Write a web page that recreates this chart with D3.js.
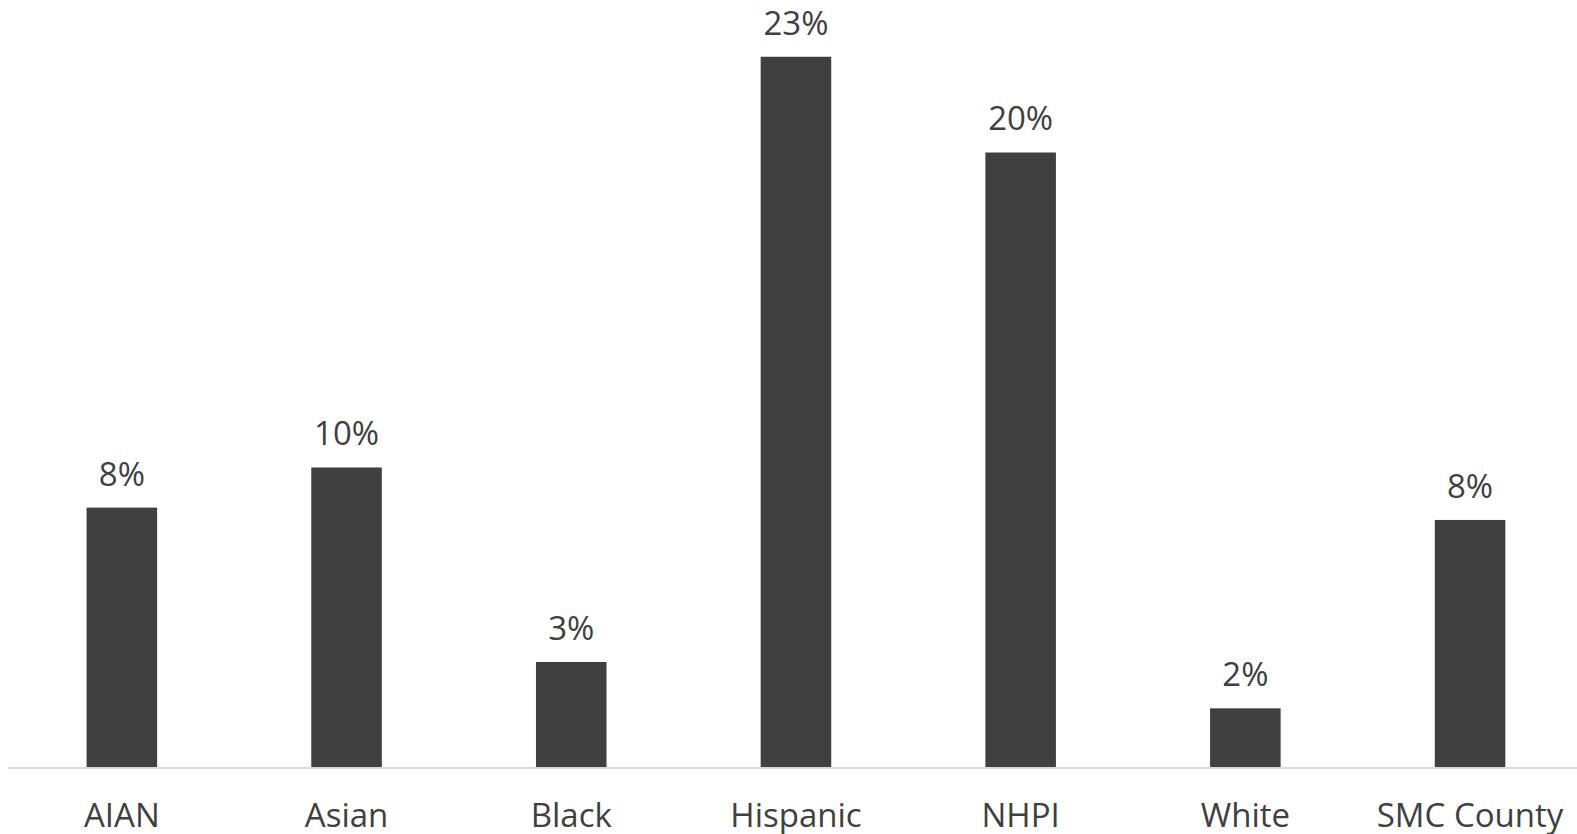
<!DOCTYPE html>
<html>
<head>
<meta charset="utf-8">
<script src="https://cdn.jsdelivr.net/npm/d3@7"></script>
<style>
  html, body { margin: 0; padding: 0; background: #fff; }
  svg { display: block; }
</style>
</head>
<body>
<svg id="chart" width="1577" height="834"></svg>
<script>
// Share of each group (percent)
const categories = ["AIAN", "Asian", "Black", "Hispanic", "NHPI", "White", "SMC County"];
const values = [8.4, 9.7, 3.4, 23.0, 19.9, 1.9, 8.0];

const svg = d3.select("#chart");
const W = 1577, H = 834;
const baseY = 767;
const font = "'Open Sans', 'Noto Sans', sans-serif";

const x = d3.scaleBand()
  .domain(categories)
  .range([9.5, 1582.4])
  .paddingInner(0.686)
  .paddingOuter(0.343);

const y = d3.scaleLinear()
  .domain([0, 25])
  .range([baseY, -5]);

const data = categories.map((c, i) => ({ c, v: values[i] }));

// bars
svg.append("g").selectAll("rect")
  .data(data)
  .join("rect")
  .attr("x", d => x(d.c))
  .attr("y", d => y(d.v))
  .attr("width", x.bandwidth())
  .attr("height", d => y(0) - y(d.v))
  .attr("fill", "#404040");

// category axis line
svg.append("line")
  .attr("x1", 8).attr("x2", W)
  .attr("y1", baseY + 1).attr("y2", baseY + 1)
  .attr("stroke", "#d9d9d9")
  .attr("stroke-width", 2);

// value labels
svg.append("g").selectAll("text")
  .data(data)
  .join("text")
  .attr("x", d => x(d.c) + x.bandwidth() / 2)
  .attr("y", d => y(d.v) - 22)
  .attr("text-anchor", "middle")
  .attr("font-family", font)
  .attr("font-size", 33)
  .attr("fill", "#404040")
  .text(d => Math.round(d.v) + "%");

// category labels
svg.append("g").selectAll("text")
  .data(categories)
  .join("text")
  .attr("x", d => x(d) + x.bandwidth() / 2)
  .attr("y", 827)
  .attr("text-anchor", "middle")
  .attr("font-family", font)
  .attr("font-size", 33)
  .attr("fill", "#404040")
  .text(d => d);
</script>
</body>
</html>
